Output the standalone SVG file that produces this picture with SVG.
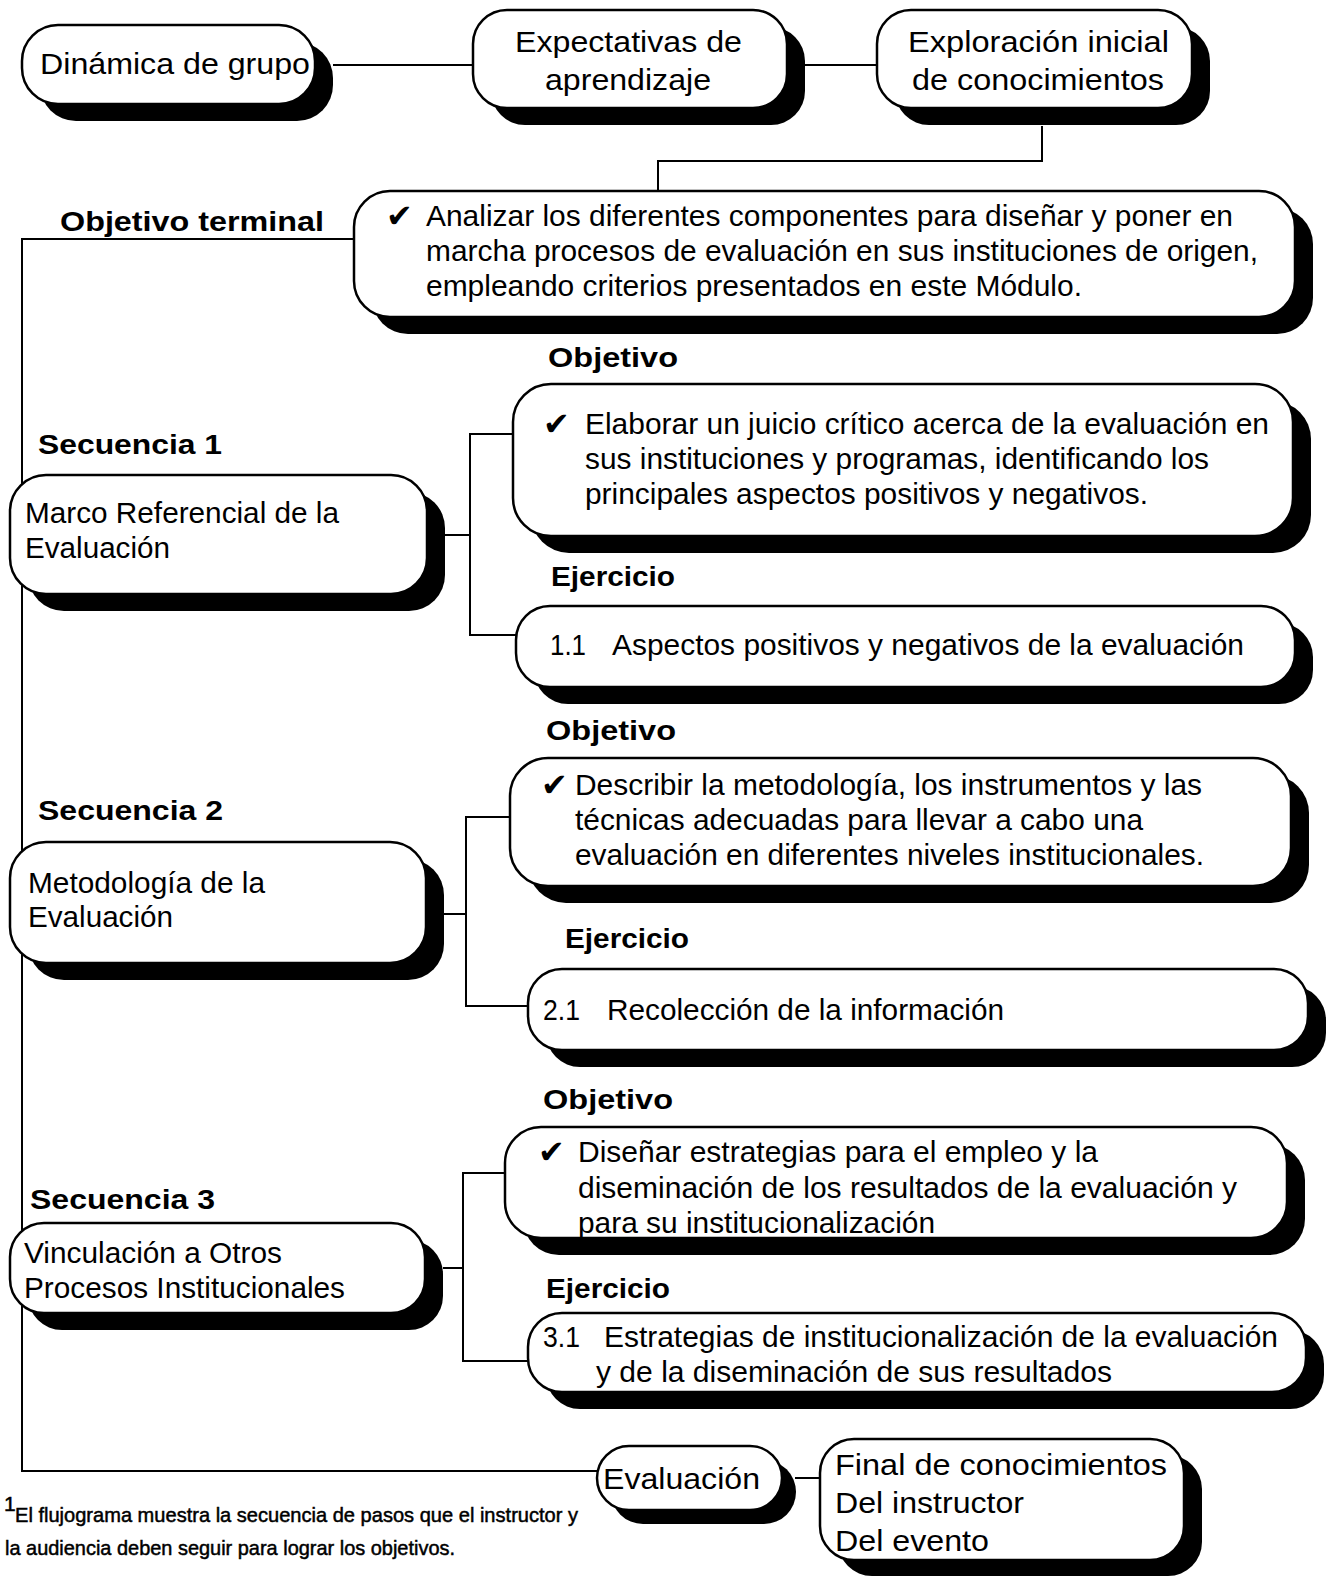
<svg xmlns="http://www.w3.org/2000/svg" width="1328" height="1578" viewBox="0 0 1328 1578">
  <style>
    .shadow { fill: #000; }
    .box { fill: #fff; stroke: #000; stroke-width: 2.5; }
    .t { font-family: "Liberation Sans", Arial, sans-serif; font-size: 29px; fill: #000; }
    .lbl { font-family: "Liberation Sans", Arial, sans-serif; font-size: 28px; font-weight: bold; fill: #000; }
    .chk { font-family: "DejaVu Sans", sans-serif; font-size: 32px; fill: #000; }
    .note { font-family: "Liberation Sans", Arial, sans-serif; font-size: 21px; fill: #000; stroke: #000; stroke-width: 0.5; }
    .conn { fill: none; stroke: #000; stroke-width: 2; }
  </style>

  <!-- connectors -->
  <g id="connectors" class="conn">
    <path d="M333 65 H473"/>
    <path d="M805 65 H877"/>
    <path d="M1042 126 V161 H658 V191"/>
    <path d="M354 239 H22 V1471 H597"/>
    <path d="M445 535 H470 M513 434 H470 V635 H516"/>
    <path d="M444 914 H466 M510 817 H466 V1006 H528"/>
    <path d="M443 1268 H463 M505 1173 H463 V1361 H528"/>
    <path d="M795 1478 H820"/>
  </g>

  <!-- header row -->
  <g id="dinamica">
    <rect class="shadow" x="40" y="42" width="293" height="79" rx="36"/>
    <rect class="box" x="22" y="25" width="293" height="79" rx="36"/>
    <text class="t" x="40" y="74" textLength="270" lengthAdjust="spacingAndGlyphs">Dinámica de grupo</text>
  </g>
  <g id="expectativas">
    <rect class="shadow" x="491" y="27" width="314" height="98" rx="34"/>
    <rect class="box" x="473" y="10" width="314" height="98" rx="34"/>
    <text class="t" x="515" y="52" textLength="227" lengthAdjust="spacingAndGlyphs">Expectativas de</text>
    <text class="t" x="545" y="90" textLength="166" lengthAdjust="spacingAndGlyphs">aprendizaje</text>
  </g>
  <g id="exploracion">
    <rect class="shadow" x="895" y="27" width="315" height="98" rx="34"/>
    <rect class="box" x="877" y="10" width="315" height="98" rx="34"/>
    <text class="t" x="908" y="52" textLength="261" lengthAdjust="spacingAndGlyphs">Exploración inicial</text>
    <text class="t" x="912" y="90" textLength="252" lengthAdjust="spacingAndGlyphs">de conocimientos</text>
  </g>

  <!-- terminal objective -->
  <text class="lbl" x="60" y="231" textLength="264" lengthAdjust="spacingAndGlyphs">Objetivo terminal</text>
  <g id="objetivo-terminal">
    <rect class="shadow" x="372" y="208" width="941" height="126" rx="36"/>
    <rect class="box" x="354" y="191" width="941" height="126" rx="36"/>
    <text class="chk" x="386" y="227">✔</text>
    <text class="t" x="426" y="226" textLength="807" lengthAdjust="spacingAndGlyphs">Analizar los diferentes componentes para diseñar y poner en</text>
    <text class="t" x="426" y="261" textLength="832" lengthAdjust="spacingAndGlyphs">marcha procesos de evaluación en sus instituciones de origen,</text>
    <text class="t" x="426" y="296" textLength="656" lengthAdjust="spacingAndGlyphs">empleando criterios presentados en este Módulo.</text>
  </g>

  <!-- sequence 1 -->
  <text class="lbl" x="38" y="454" textLength="184" lengthAdjust="spacingAndGlyphs">Secuencia 1</text>
  <g id="secuencia-1">
    <rect class="shadow" x="28" y="492" width="417" height="119" rx="36"/>
    <rect class="box" x="10" y="475" width="417" height="119" rx="36"/>
    <text class="t" x="25" y="523" textLength="314" lengthAdjust="spacingAndGlyphs">Marco Referencial de la</text>
    <text class="t" x="25" y="558" textLength="145" lengthAdjust="spacingAndGlyphs">Evaluación</text>
  </g>
  <text class="lbl" x="548" y="367" textLength="130" lengthAdjust="spacingAndGlyphs">Objetivo</text>
  <g id="objetivo-1">
    <rect class="shadow" x="531" y="401" width="780" height="152" rx="38"/>
    <rect class="box" x="513" y="384" width="780" height="152" rx="38"/>
    <text class="chk" x="543" y="435">✔</text>
    <text class="t" x="585" y="434" textLength="684" lengthAdjust="spacingAndGlyphs">Elaborar un juicio crítico acerca de la evaluación en</text>
    <text class="t" x="585" y="469" textLength="624" lengthAdjust="spacingAndGlyphs">sus instituciones y programas, identificando los</text>
    <text class="t" x="585" y="504" textLength="563" lengthAdjust="spacingAndGlyphs">principales aspectos positivos y negativos.</text>
  </g>
  <text class="lbl" x="551" y="586" font-size="26" textLength="124" lengthAdjust="spacingAndGlyphs">Ejercicio</text>
  <g id="ejercicio-1">
    <rect class="shadow" x="534" y="623" width="779" height="81" rx="34"/>
    <rect class="box" x="516" y="606" width="779" height="81" rx="34"/>
    <text class="t" x="550" y="655" textLength="36" lengthAdjust="spacingAndGlyphs">1.1</text>
    <text class="t" x="612" y="655" textLength="632" lengthAdjust="spacingAndGlyphs">Aspectos positivos y negativos de la evaluación</text>
  </g>

  <!-- sequence 2 -->
  <text class="lbl" x="38" y="820" textLength="185" lengthAdjust="spacingAndGlyphs">Secuencia 2</text>
  <g id="secuencia-2">
    <rect class="shadow" x="28" y="859" width="416" height="121" rx="36"/>
    <rect class="box" x="10" y="842" width="416" height="121" rx="36"/>
    <text class="t" x="28" y="893" textLength="237" lengthAdjust="spacingAndGlyphs">Metodología de la</text>
    <text class="t" x="28" y="927" textLength="145" lengthAdjust="spacingAndGlyphs">Evaluación</text>
  </g>
  <text class="lbl" x="546" y="740" textLength="130" lengthAdjust="spacingAndGlyphs">Objetivo</text>
  <g id="objetivo-2">
    <rect class="shadow" x="528" y="775" width="781" height="128" rx="38"/>
    <rect class="box" x="510" y="758" width="781" height="128" rx="38"/>
    <text class="chk" x="541" y="796">✔</text>
    <text class="t" x="575" y="795" textLength="627" lengthAdjust="spacingAndGlyphs">Describir la metodología, los instrumentos y las</text>
    <text class="t" x="575" y="830" textLength="568" lengthAdjust="spacingAndGlyphs">técnicas adecuadas para llevar a cabo una</text>
    <text class="t" x="575" y="865" textLength="629" lengthAdjust="spacingAndGlyphs">evaluación en diferentes niveles institucionales.</text>
  </g>
  <text class="lbl" x="565" y="948" font-size="26" textLength="124" lengthAdjust="spacingAndGlyphs">Ejercicio</text>
  <g id="ejercicio-2">
    <rect class="shadow" x="546" y="986" width="780" height="81" rx="34"/>
    <rect class="box" x="528" y="969" width="780" height="81" rx="34"/>
    <text class="t" x="543" y="1020" textLength="37" lengthAdjust="spacingAndGlyphs">2.1</text>
    <text class="t" x="607" y="1020" textLength="397" lengthAdjust="spacingAndGlyphs">Recolección de la información</text>
  </g>

  <!-- sequence 3 -->
  <text class="lbl" x="30" y="1209" textLength="185" lengthAdjust="spacingAndGlyphs">Secuencia 3</text>
  <g id="secuencia-3">
    <rect class="shadow" x="28" y="1240" width="415" height="90" rx="34"/>
    <rect class="box" x="10" y="1223" width="415" height="90" rx="34"/>
    <text class="t" x="24" y="1263" textLength="258" lengthAdjust="spacingAndGlyphs">Vinculación a Otros</text>
    <text class="t" x="24" y="1298" textLength="321" lengthAdjust="spacingAndGlyphs">Procesos Institucionales</text>
  </g>
  <text class="lbl" x="543" y="1109" textLength="130" lengthAdjust="spacingAndGlyphs">Objetivo</text>
  <g id="objetivo-3">
    <rect class="shadow" x="523" y="1144" width="782" height="111" rx="36"/>
    <rect class="box" x="505" y="1127" width="782" height="111" rx="36"/>
    <text class="chk" x="538" y="1163">✔</text>
    <text class="t" x="578" y="1162" textLength="520" lengthAdjust="spacingAndGlyphs">Diseñar estrategias para el empleo y la</text>
    <text class="t" x="578" y="1198" textLength="659" lengthAdjust="spacingAndGlyphs">diseminación de los resultados de la evaluación y</text>
    <text class="t" x="578" y="1233" textLength="357" lengthAdjust="spacingAndGlyphs">para su institucionalización</text>
  </g>
  <text class="lbl" x="546" y="1298" font-size="26" textLength="124" lengthAdjust="spacingAndGlyphs">Ejercicio</text>
  <g id="ejercicio-3">
    <rect class="shadow" x="546" y="1330" width="778" height="79" rx="34"/>
    <rect class="box" x="528" y="1313" width="778" height="79" rx="34"/>
    <text class="t" x="543" y="1347" textLength="37" lengthAdjust="spacingAndGlyphs">3.1</text>
    <text class="t" x="604" y="1347" textLength="674" lengthAdjust="spacingAndGlyphs">Estrategias de institucionalización de la evaluación</text>
    <text class="t" x="596" y="1382" textLength="516" lengthAdjust="spacingAndGlyphs">y de la diseminación de sus resultados</text>
  </g>

  <!-- evaluation -->
  <g id="evaluacion">
    <rect class="shadow" x="611" y="1460" width="185" height="64" rx="32"/>
    <rect class="box" x="597" y="1446" width="185" height="64" rx="32"/>
    <text class="t" x="603" y="1489" textLength="157" lengthAdjust="spacingAndGlyphs">Evaluación</text>
  </g>
  <g id="evaluacion-tipos">
    <rect class="shadow" x="838" y="1455" width="364" height="121" rx="34"/>
    <rect class="box" x="820" y="1439" width="364" height="121" rx="34"/>
    <text class="t" x="835" y="1475" textLength="332" lengthAdjust="spacingAndGlyphs">Final de conocimientos</text>
    <text class="t" x="835" y="1513" textLength="189" lengthAdjust="spacingAndGlyphs">Del instructor</text>
    <text class="t" x="835" y="1551" textLength="154" lengthAdjust="spacingAndGlyphs">Del evento</text>
  </g>

  <!-- footnote -->
  <g id="nota">
    <text class="note" x="4" y="1511" font-size="11" stroke-width="0.3">1</text>
    <text class="note" x="15" y="1522" textLength="563" lengthAdjust="spacingAndGlyphs">El flujograma muestra la secuencia de pasos que el instructor y</text>
    <text class="note" x="5" y="1555" textLength="450" lengthAdjust="spacingAndGlyphs">la audiencia deben seguir para lograr los objetivos.</text>
  </g>
</svg>
